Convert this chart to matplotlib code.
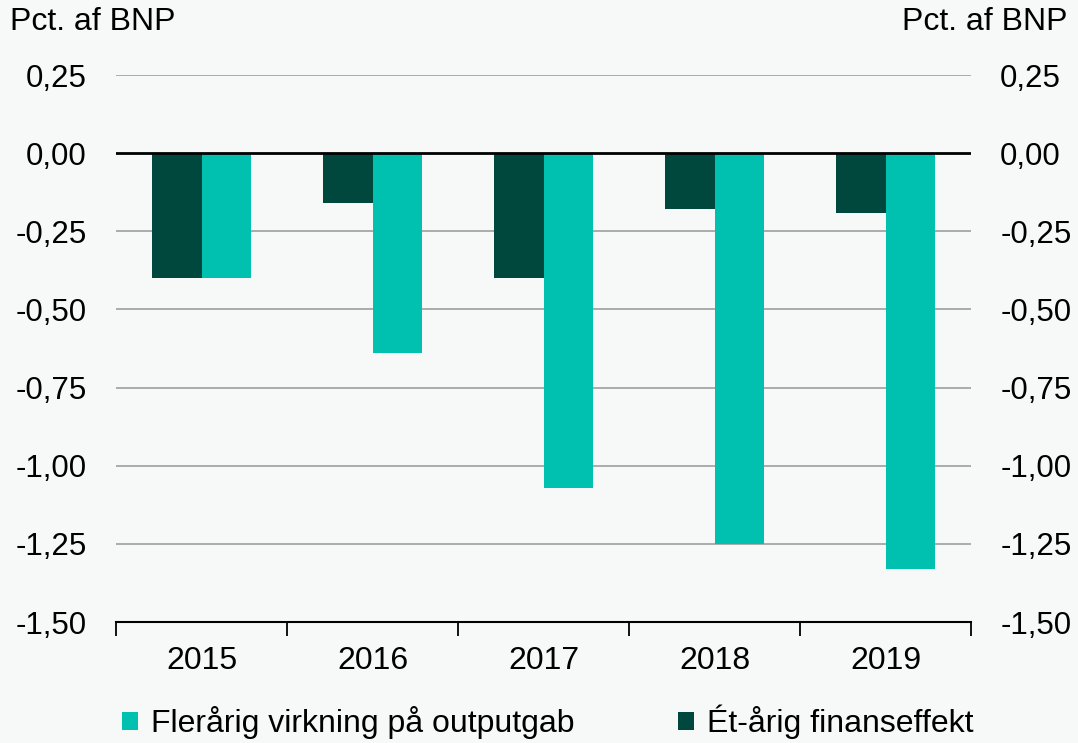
import numpy as np
import matplotlib.pyplot as plt
from matplotlib.ticker import FixedLocator

plt.rcParams['font.family'] = ['Liberation Sans', 'DejaVu Sans']

# data
years = ['2015', '2016', '2017', '2018', '2019']
flerarig = [-0.40, -0.64, -1.07, -1.25, -1.33]
etarig = [-0.40, -0.16, -0.40, -0.18, -0.19]
yticks = [0.25, 0.0, -0.25, -0.5, -0.75, -1.0, -1.25, -1.5]

light = '#00C1B0'
dark = '#00473E'
bg = '#F7F8F8'

fig = plt.figure(figsize=(10.78, 7.43), dpi=100, facecolor=bg)
ax = fig.add_axes([116/1078, 1-622/743, (971-116)/1078, (622-75)/743])
ax.set_facecolor(bg)

x = np.arange(len(years))
w = 0.287
ax.bar(x - w/2, etarig, w, color=dark, label='Ét-årig finanseffekt', zorder=3)
ax.bar(x + w/2, flerarig, w, color=light, label='Flerårig virkning på outputgab', zorder=3)

ax.set_xlim(-0.5, len(years) - 0.5)
ax.set_ylim(-1.5, 0.25)
ax.set_yticks(yticks)
lab = [('%.2f' % v).replace('.', ',').replace('-0,00', '0,00') for v in yticks]
ax.set_yticklabels(lab)
for v in yticks:
    if v == 0:
        ax.axhline(v, color='black', lw=2, zorder=4)
    elif v != -1.5:
        ax.axhline(v, color='#A6A6A6', lw=1.3, zorder=1)

ax.xaxis.set_major_locator(FixedLocator(np.arange(-0.5, len(years), 1.0)))
ax.xaxis.set_minor_locator(FixedLocator(x))
ax.set_xticklabels([], minor=False)
ax.set_xticklabels(years, minor=True)
ax.tick_params(axis='x', which='major', length=10, width=1.3, direction='out')
ax.tick_params(axis='x', which='minor', length=0, labelsize=23, pad=17)
ax.tick_params(axis='y', length=0, labelsize=22.5, pad=21)

for s in ['top', 'left', 'right']:
    ax.spines[s].set_visible(False)
ax.spines['bottom'].set_linewidth(1.5)

ax2 = ax.twinx()
ax2.set_ylim(ax.get_ylim())
ax2.set_yticks(yticks)
ax2.set_yticklabels(lab)
ax2.tick_params(axis='y', length=0, labelsize=22.5, pad=21)
for s in ['top', 'left', 'right', 'bottom']:
    ax2.spines[s].set_visible(False)

fig.text(10/1078, 1-22/743, 'Pct. af BNP', fontsize=23, va='center', ha='left')
fig.text(1068/1078, 1-22/743, 'Pct. af BNP', fontsize=23, va='center', ha='right')

h, l = ax.get_legend_handles_labels()
leg = fig.legend(h[::-1], l[::-1], loc='center', bbox_to_anchor=(0.508, 1-722/743), ncol=2,
                 frameon=False, handlelength=0.5, handleheight=0.5,
                 handletextpad=0.4, columnspacing=3.25,
                 prop={'family': ['Liberation Sans'], 'size': 23})

fig.savefig('out.png', dpi=100, facecolor=bg)
